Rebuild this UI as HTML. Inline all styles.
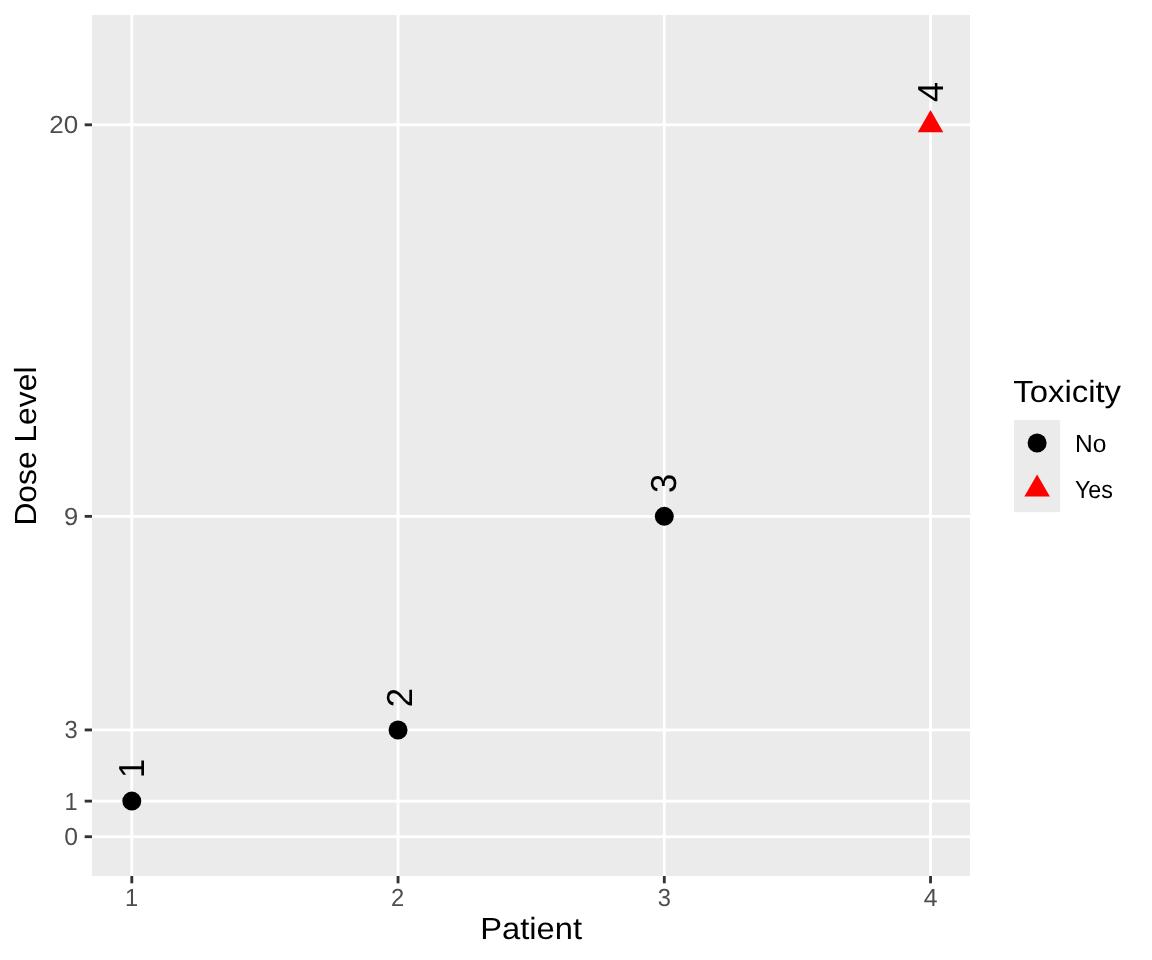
<!DOCTYPE html>
<html><head><meta charset="utf-8"><title>Dose Level by Patient</title>
<style>
html,body{margin:0;padding:0;background:#FFFFFF;}
body{width:1152px;height:960px;overflow:hidden;}
svg{display:block;will-change:transform;}
text{font-family:"Liberation Sans", sans-serif;text-rendering:geometricPrecision;}
</style></head>
<body>
<svg width="1152" height="960" viewBox="0 0 1152 960">
<rect x="0" y="0" width="1152" height="960" fill="#FFFFFF"/>
<rect x="92.0" y="15.0" width="878" height="861" fill="#EBEBEB"/>
<rect x="92.0" y="835.3" width="878" height="2.84" fill="#FFFFFF"/>
<rect x="92.0" y="799.7" width="878" height="2.84" fill="#FFFFFF"/>
<rect x="92.0" y="728.51" width="878" height="2.84" fill="#FFFFFF"/>
<rect x="92.0" y="514.94" width="878" height="2.84" fill="#FFFFFF"/>
<rect x="92.0" y="123.38" width="878" height="2.84" fill="#FFFFFF"/>
<rect x="130.38" y="15.0" width="2.84" height="861" fill="#FFFFFF"/>
<rect x="396.62" y="15.0" width="2.84" height="861" fill="#FFFFFF"/>
<rect x="662.87" y="15.0" width="2.84" height="861" fill="#FFFFFF"/>
<rect x="929.11" y="15.0" width="2.84" height="861" fill="#FFFFFF"/>
<rect x="84.67" y="835.3" width="7.33" height="2.84" fill="#333333"/>
<rect x="84.67" y="799.7" width="7.33" height="2.84" fill="#333333"/>
<rect x="84.67" y="728.51" width="7.33" height="2.84" fill="#333333"/>
<rect x="84.67" y="514.94" width="7.33" height="2.84" fill="#333333"/>
<rect x="84.67" y="123.38" width="7.33" height="2.84" fill="#333333"/>
<rect x="130.38" y="876.0" width="2.84" height="7.33" fill="#333333"/>
<rect x="396.62" y="876.0" width="2.84" height="7.33" fill="#333333"/>
<rect x="662.87" y="876.0" width="2.84" height="7.33" fill="#333333"/>
<rect x="929.11" y="876.0" width="2.84" height="7.33" fill="#333333"/>
<text transform="translate(64.31,845.27) scale(0.9938,1)" font-size="24.84" fill="#4D4D4D">0</text>
<text transform="translate(64.5,809.67) scale(0.9512,1)" font-size="24.84" fill="#4D4D4D">1</text>
<text transform="translate(64.59,738.48) scale(0.9568,1)" font-size="24.84" fill="#4D4D4D">3</text>
<text transform="translate(63.98,524.91) scale(1.0298,1)" font-size="24.84" fill="#4D4D4D">9</text>
<text transform="translate(49.21,133.35) scale(1.0455,1)" font-size="24.84" fill="#4D4D4D">20</text>
<text transform="translate(125.11,905.9) scale(0.9512,1)" font-size="24.84" fill="#4D4D4D">1</text>
<text transform="translate(391.1,905.9) scale(0.9582,1)" font-size="24.84" fill="#4D4D4D">2</text>
<text transform="translate(657.69,905.9) scale(0.9568,1)" font-size="24.84" fill="#4D4D4D">3</text>
<text transform="translate(923.66,905.9) scale(0.9957,1)" font-size="24.84" fill="#4D4D4D">4</text>
<circle cx="131.8" cy="801.12" r="9.5" fill="#000000"/>
<circle cx="398.04" cy="729.93" r="9.5" fill="#000000"/>
<circle cx="664.29" cy="516.36" r="9.5" fill="#000000"/>
<polygon points="930.53,110.06 943.3,132.17 917.76,132.17" fill="#FF0000"/>
<text transform="translate(144.25,777.96) rotate(-90) scale(0.9512,1)" font-size="36.15" fill="#000000">1</text>
<text transform="translate(411.53,707.13) rotate(-90) scale(0.9585,1)" font-size="36.15" fill="#000000">2</text>
<text transform="translate(676.43,493.06) rotate(-90) scale(0.9570,1)" font-size="36.15" fill="#000000">3</text>
<text transform="translate(942.98,101.91) rotate(-90) scale(0.9961,1)" font-size="36.15" fill="#000000">4</text>
<text transform="translate(480.2,938.9) scale(1.0713,1)" font-size="30.56" fill="#000000">Patient</text>
<text transform="translate(35.9,525.62) rotate(-90) scale(1.0408,1)" font-size="30.56" fill="#000000">Dose Level</text>
<rect x="1014.08" y="420.0" width="46.08" height="92.16" fill="#EBEBEB"/>
<circle cx="1037.12" cy="443.04" r="9.5" fill="#000000"/>
<polygon points="1037.12,474.38 1049.89,496.49 1024.35,496.49" fill="#FF0000"/>
<text transform="translate(1013.2,401.9) scale(1.0766,1)" font-size="30.56" fill="#000000">Toxicity</text>
<text transform="translate(1075.12,451.6) scale(0.9884,1)" font-size="24.84" fill="#000000">No</text>
<text transform="translate(1074.88,497.7) scale(0.9344,1)" font-size="24.84" fill="#000000">Yes</text>
</svg>
</body></html>
